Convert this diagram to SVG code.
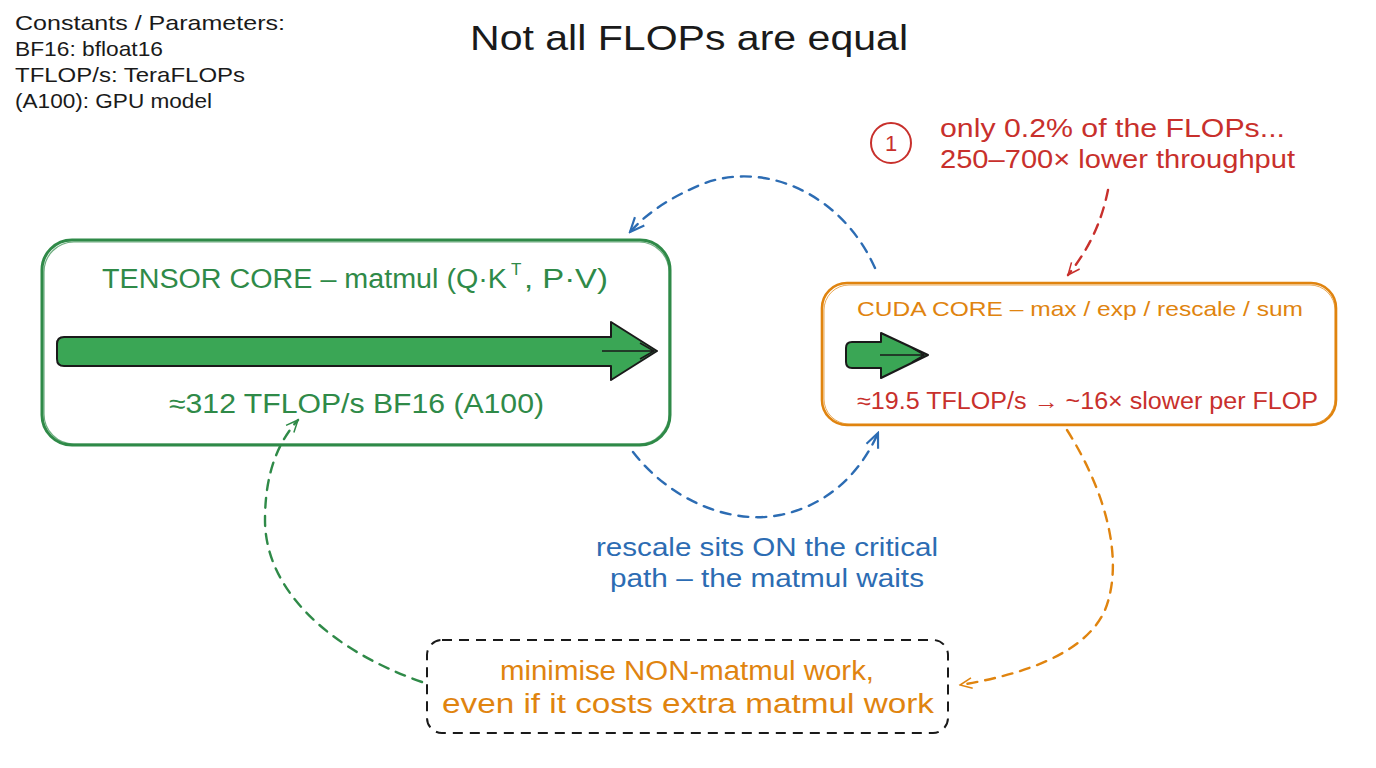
<svg xmlns="http://www.w3.org/2000/svg" width="1376" height="768" viewBox="0 0 1376 768">
<defs>
<style>
text{font-family:"Liberation Sans","DejaVu Sans",sans-serif}
.hd{font-size:21px;fill:#1a1a1a}
.green{fill:#2f8a48}
.orange{fill:#e0840f}
.red{fill:#c8302c}
.blue{fill:#2c6cb3}
.dash{fill:none;stroke-width:2.4;stroke-dasharray:10 8;stroke-linecap:round}
</style>
<marker id="ab" viewBox="0 0 20 20" refX="18" refY="10" markerWidth="18" markerHeight="18" markerUnits="userSpaceOnUse" orient="auto"><path d="M2 3 L18 10 L2 17" fill="none" stroke="#2c6cb3" stroke-width="2.4"/></marker>
<marker id="ar" viewBox="0 0 20 20" refX="18" refY="10" markerWidth="15" markerHeight="15" markerUnits="userSpaceOnUse" orient="auto"><path d="M2 3 L18 10 L2 17" fill="none" stroke="#c8302c" stroke-width="2"/></marker>
<marker id="ag" viewBox="0 0 20 20" refX="18" refY="10" markerWidth="15" markerHeight="15" markerUnits="userSpaceOnUse" orient="auto"><path d="M2 3 L18 10 L2 17" fill="none" stroke="#2f8a48" stroke-width="2"/></marker>
<marker id="ao" viewBox="0 0 20 20" refX="18" refY="10" markerWidth="15" markerHeight="15" markerUnits="userSpaceOnUse" orient="auto"><path d="M2 3 L18 10 L2 17" fill="none" stroke="#e0840f" stroke-width="2"/></marker>
</defs>
<rect width="1376" height="768" fill="#ffffff"/>

<g id="legend">
<text class="hd" x="15" y="30" textLength="270" lengthAdjust="spacingAndGlyphs">Constants / Parameters:</text>
<text class="hd" x="15" y="56" textLength="148" lengthAdjust="spacingAndGlyphs">BF16: bfloat16</text>
<text class="hd" x="15" y="82" textLength="230" lengthAdjust="spacingAndGlyphs">TFLOP/s: TeraFLOPs</text>
<text class="hd" x="15" y="108" textLength="197" lengthAdjust="spacingAndGlyphs">(A100): GPU model</text>
</g>

<g id="title">
<text x="470" y="50" font-size="35" fill="#1a1a1a" textLength="438" lengthAdjust="spacingAndGlyphs">Not all FLOPs are equal</text>
</g>

<g id="connectors">
<path class="dash" stroke="#2c6cb3" d="M 875 268 C 840 190, 760 160, 700 185 C 670 198, 648 212, 630 232" marker-end="url(#ab)"/>
<path class="dash" stroke="#2c6cb3" d="M 633 452 C 670 500, 730 525, 780 515 C 830 505, 862 470, 878 433" marker-end="url(#ab)"/>
<path class="dash" stroke="#c8302c" stroke-width="1.8" d="M 1108 190 C 1102 220, 1090 248, 1068 275" marker-end="url(#ar)"/>
<path class="dash" stroke="#2f8a48" stroke-width="1.8" d="M 422 682 C 330 650, 265 590, 265 520 C 265 470, 280 440, 298 420" marker-end="url(#ag)"/>
<path class="dash" stroke="#e0840f" stroke-width="1.8" d="M 1067 430 C 1105 490, 1125 560, 1105 610 C 1085 655, 1020 675, 960 685" marker-end="url(#ao)"/>
</g>

<g id="tensor-core">
<rect x="42" y="240" width="628" height="205" rx="30" fill="none" stroke="#2f8a48" stroke-width="3"/>
<rect x="44" y="242" width="625" height="202" rx="30" fill="none" stroke="#2f8a48" stroke-width="1.2" opacity="0.7"/>
<text class="green" x="102" y="288" font-size="27" textLength="405" lengthAdjust="spacingAndGlyphs">TENSOR CORE – matmul (Q·K</text>
<text class="green" x="511" y="275" font-size="17">T</text>
<text class="green" x="524" y="288" font-size="27" textLength="84" lengthAdjust="spacingAndGlyphs">, P·V)</text>
<path d="M 64 337 L 611 337 L 611 322 L 657 351 L 611 380 L 611 366 L 64 366 Q 57 366 57 359 L 57 344 Q 57 337 64 337 Z" fill="#3aa655" stroke="#1a1a1a" stroke-width="2" stroke-linejoin="round"/>
<path d="M 602 351 L 654 351 M 640 343 L 654 351 L 640 359" fill="none" stroke="#1a1a1a" stroke-width="1.5"/>
<text class="green" x="169" y="413" font-size="27" textLength="375" lengthAdjust="spacingAndGlyphs">≈312 TFLOP/s BF16 (A100)</text>
</g>

<g id="cuda-core">
<rect x="822" y="283" width="514" height="142" rx="25" fill="none" stroke="#e0840f" stroke-width="2.6"/>
<rect x="824" y="285" width="511" height="139" rx="25" fill="none" stroke="#e0840f" stroke-width="1" opacity="0.7"/>
<text class="orange" x="857" y="316" font-size="21" textLength="446" lengthAdjust="spacingAndGlyphs">CUDA CORE – max / exp / rescale / sum</text>
<path d="M 852 342 L 881 342 L 881 333 L 928 355 L 881 378 L 881 368 L 852 368 Q 846 368 846 362 L 846 348 Q 846 342 852 342 Z" fill="#3aa655" stroke="#1a1a1a" stroke-width="2" stroke-linejoin="round"/>
<path d="M 880 355 L 924 355 M 912 348 L 924 355 L 912 362" fill="none" stroke="#1a1a1a" stroke-width="1.4"/>
<text class="red" x="857" y="409" font-size="23" textLength="461" lengthAdjust="spacingAndGlyphs">≈19.5 TFLOP/s → ~16× slower per FLOP</text>
</g>

<g id="callout">
<circle cx="891" cy="143" r="20" fill="none" stroke="#c8302c" stroke-width="2"/>
<text class="red" x="891" y="151" text-anchor="middle" font-size="22">1</text>
<text class="red" x="940" y="137" font-size="25" textLength="345" lengthAdjust="spacingAndGlyphs">only 0.2% of the FLOPs...</text>
<text class="red" x="940" y="168" font-size="25" textLength="355" lengthAdjust="spacingAndGlyphs">250–700× lower throughput</text>
</g>

<g id="critical-path-note">
<text class="blue" x="596" y="556" font-size="25" textLength="342" lengthAdjust="spacingAndGlyphs">rescale sits ON the critical</text>
<text class="blue" x="610" y="587" font-size="25" textLength="314" lengthAdjust="spacingAndGlyphs">path – the matmul waits</text>
</g>

<g id="takeaway">
<rect x="427" y="640" width="521" height="93" rx="15" fill="none" stroke="#1a1a1a" stroke-width="2" stroke-dasharray="10 7"/>
<text class="orange" x="500" y="680" font-size="27" textLength="374" lengthAdjust="spacingAndGlyphs">minimise NON-matmul work,</text>
<text class="orange" x="442" y="713" font-size="27" textLength="492" lengthAdjust="spacingAndGlyphs">even if it costs extra matmul work</text>
</g>
</svg>
